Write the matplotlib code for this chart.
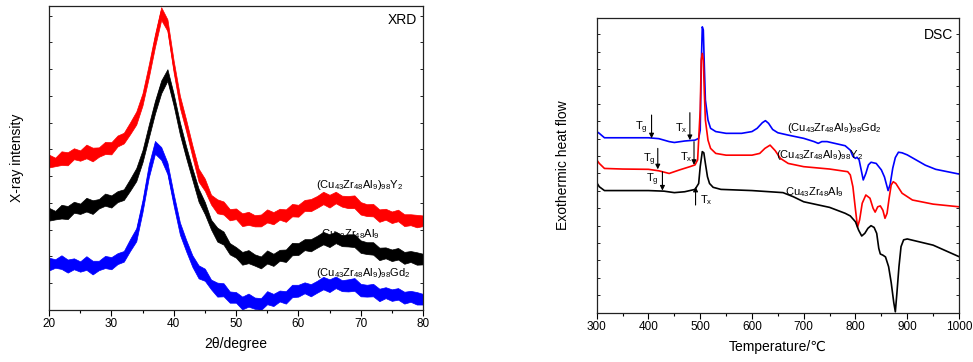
import numpy as np
import matplotlib
matplotlib.use("Agg")
import matplotlib.pyplot as plt
from matplotlib.ticker import MultipleLocator

plt.rcParams['font.family'] = ['Liberation Sans', 'DejaVu Sans']
plt.rcParams['mathtext.fontset'] = 'custom'
plt.rcParams['mathtext.rm'] = 'Liberation Sans'

# ---------------- XRD data ----------------
xrd_angle = list(range(20, 81))
xrd_y2 = [49.3, 48.8, 49.6, 50.4, 51.0, 51.3, 51.5, 51.8, 52.1, 52.6, 53.7, 55.4, 57.0, 59.2, 63.6,
          69.1, 77.9, 88.8, 98.1, 93.2, 80.0, 69.1, 60.3, 52.6, 45.0, 40.6, 36.7, 34.5, 32.9, 31.8,
          31.3, 30.5, 29.6, 29.6, 30.2, 30.2, 30.7, 31.3, 31.8, 32.3, 32.9, 34.0, 35.1, 35.6, 36.2,
          36.4, 36.7, 36.4, 35.6, 34.9, 34.0, 33.1, 32.3, 31.8, 31.3, 30.9, 30.7, 30.2, 29.6, 29.6, 29.6]
xrd_base = [31.8, 31.3, 32.0, 32.7, 33.4, 33.8, 34.0, 34.5, 35.1, 35.6, 36.2, 37.1, 38.4, 40.6, 45.0,
            50.4, 58.1, 66.9, 74.0, 76.8, 69.1, 60.3, 51.5, 45.0, 38.4, 32.9, 28.5, 25.2, 23.0, 20.6,
            18.6, 17.8, 17.0, 16.7, 16.4, 16.7, 17.0, 17.8, 18.6, 19.5, 20.3, 21.1, 21.9, 22.5, 23.0,
            23.4, 23.6, 23.4, 23.0, 22.1, 21.4, 20.6, 19.7, 19.2, 18.6, 18.4, 18.1, 17.8, 17.5, 17.3, 17.0]
xrd_gd2 = [15.4, 15.4, 15.4, 15.1, 14.8, 14.8, 14.8, 14.6, 14.8, 15.1, 15.9, 16.7, 18.1, 20.8, 25.2,
           34.0, 45.0, 53.7, 52.1, 46.1, 36.2, 27.4, 20.8, 16.4, 13.2, 11.0, 8.8, 7.1, 6.0, 4.7,
           3.8, 3.1, 2.7, 2.5, 2.7, 3.3, 3.8, 4.4, 4.9, 5.7, 6.6, 6.9, 7.1, 7.7, 8.2,
           8.6, 8.8, 8.6, 8.2, 7.7, 7.1, 6.6, 6.0, 5.7, 5.5, 5.3, 4.9, 4.7, 4.4, 4.2, 3.8]
# upper / lower half-width of the noise band
xrd_noise_up = [1.8, 1.3, 2.6, 1.5, 2.2, 1.2, 2.9, 1.6, 1.4, 2.7, 1.5, 2.0, 1.3, 2.5, 1.7,
                2.2, 2.8, 1.9, 1.5, 2.4, 2.0, 1.4, 2.3, 1.6, 1.5, 2.6, 1.2, 1.9, 2.8, 1.4,
                2.1, 1.3, 2.7, 1.6, 1.2, 2.9, 1.5, 2.0, 1.3, 2.6, 1.7, 2.2, 1.4, 1.9, 2.7,
                1.5, 2.2, 1.2, 1.9, 2.8, 1.5, 1.7, 2.6, 1.3, 2.0, 1.5, 2.3, 1.3, 1.9, 1.7, 1.5]
xrd_noise_dn = [2.4, 1.5, 1.9, 2.8, 1.4, 2.2, 1.6, 2.9, 1.7, 1.3, 2.5, 1.6, 2.2, 1.4, 2.6,
                1.8, 1.5, 2.3, 2.7, 1.4, 1.9, 2.6, 1.5, 2.2, 2.8, 1.4, 2.0, 2.7, 1.5, 2.3,
                1.4, 2.9, 1.6, 2.1, 2.7, 1.4, 2.5, 1.6, 2.8, 1.5, 2.2, 1.4, 2.6, 2.0, 1.4,
                2.7, 1.6, 2.4, 2.1, 1.4, 2.6, 2.2, 1.5, 2.8, 1.6, 2.3, 1.5, 2.6, 1.7, 2.4, 2.0]

# ---------------- DSC data ----------------
dsc_T_gd2 = [300, 305, 315, 350, 400, 420, 440, 450, 470, 490, 497, 500, 502, 504, 506, 508, 510, 515,
             520, 530, 550, 580, 600, 610, 620, 626, 632, 640, 650, 670, 700, 720, 728, 735, 745, 760,
             780, 790, 795, 800, 803, 807, 811, 815, 820, 825, 830, 840, 850, 856, 863, 867, 872, 877,
             883, 890, 900, 915, 935, 955, 1000]
dsc_gd2 = [61.4, 60.8, 59.3, 59.3, 59.3, 59.0, 58.0, 57.7, 58.2, 58.5, 59.1, 61.9, 83.4, 96.9, 95.8,
           83.4, 72.1, 65.3, 62.5, 61.4, 60.8, 60.8, 61.4, 62.5, 64.4, 65.1, 64.2, 62.1, 61.0, 60.2,
           59.1, 58.0, 57.4, 58.0, 58.0, 57.4, 56.6, 55.1, 53.0, 52.3, 52.7, 51.8, 48.4, 45.0, 47.2,
           50.1, 51.0, 50.6, 48.4, 46.0, 41.4, 43.5, 49.0, 52.6, 54.4, 54.2, 53.5, 52.0, 50.0, 48.6, 47.0]
dsc_T_y2 = [300, 305, 315, 350, 400, 420, 440, 460, 480, 490, 495, 500, 502, 504, 506, 508, 510, 515,
            520, 530, 550, 580, 600, 615, 625, 635, 645, 655, 670, 700, 750, 785, 790, 795, 800, 804,
            808, 813, 820, 828, 834, 838, 843, 848, 853, 857, 861, 865, 869, 873, 878, 890, 910, 950, 1000]
dsc_y2 = [51.8, 50.6, 48.9, 48.7, 48.6, 48.1, 47.2, 48.4, 49.5, 50.1, 51.8, 68.7, 85.6, 87.9, 85.6,
          74.4, 65.3, 58.5, 55.7, 54.0, 53.4, 53.4, 53.4, 54.0, 55.7, 56.8, 54.9, 52.3, 50.6, 49.5,
          48.7, 47.8, 46.7, 42.7, 34.9, 29.0, 31.5, 37.1, 39.9, 38.8, 35.4, 34.1, 35.9, 36.2, 34.7,
          32.0, 33.7, 38.8, 43.3, 44.4, 43.8, 40.5, 38.2, 36.8, 35.9]
dsc_T_base = [300, 305, 315, 350, 400, 430, 450, 470, 490, 497, 500, 504, 507, 510, 514, 518, 525, 540,
              600, 660, 680, 700, 750, 780, 790, 800, 806, 812, 818, 824, 830, 836, 841, 845, 848, 853,
              858, 864, 869, 874, 877, 880, 884, 888, 893, 900, 950, 1000]
dsc_base = [44.1, 42.7, 41.4, 41.4, 41.4, 41.2, 40.7, 41.0, 41.8, 43.8, 49.5, 54.6, 54.2, 50.6, 46.1,
            43.8, 42.5, 41.8, 41.4, 40.7, 39.3, 37.6, 35.7, 33.7, 32.8, 30.8, 28.0, 26.0, 26.9, 28.6,
            29.5, 28.9, 26.9, 21.8, 19.9, 19.5, 18.9, 15.6, 10.2, 3.4, 0.3, 6.6, 15.6, 22.4, 24.7,
            25.0, 22.9, 19.0]

# annotation readings: (temperature, arrow start, arrow end, label x, label y)
tg_marks = [(406, 67.0, 59.1, 387, 62.8), (418, 55.7, 48.6, 402, 51.8), (427, 47.8, 41.4, 408, 45.0)]
tx_marks = [(480, 67.8, 58.5, 464, 62.5), (488, 58.0, 50.1, 473, 52.9), (491, 36.5, 42.7, 511, 38.2)]

W, H = 973, 362
fig = plt.figure(figsize=(W / 100, H / 100), dpi=100)

def style_axes(ax):
    for s in ax.spines.values():
        s.set_linewidth(0.9)
        s.set_color('#222222')
    ax.tick_params(axis='x', which='major', direction='out', length=4, width=0.8, labelsize=8.5, pad=2)
    ax.tick_params(axis='x', which='minor', direction='out', length=2.5, width=0.8)
    ax.tick_params(axis='y', which='both', direction='in', length=2, width=0.6, left=True, right=True,
                   labelleft=False)

# ---- XRD ----
ax1 = fig.add_axes([49 / W, 1 - 310 / H, 374 / W, 304 / H])
for yc, col in [(xrd_y2, '#ff0000'), (xrd_base, '#000000'), (xrd_gd2, '#0000ff')]:
    yc = np.array(yc)
    ax1.fill_between(xrd_angle, yc - np.array(xrd_noise_dn), yc + np.array(xrd_noise_up),
                     color=col, lw=0.5, edgecolor=col)
    ax1.plot(xrd_angle, yc, color=col, lw=0.8)
ax1.set_xlim(20, 80)
ax1.set_ylim(0, 100)
ax1.xaxis.set_major_locator(MultipleLocator(10))
ax1.xaxis.set_minor_locator(MultipleLocator(5))
ax1.yaxis.set_major_locator(MultipleLocator(8.8))
style_axes(ax1)
ax1.set_xlabel('2θ/degree', fontsize=10, labelpad=5)
ax1.set_ylabel('X-ray intensity', fontsize=10, labelpad=18)
ax1.text(0.985, 0.955, 'XRD', transform=ax1.transAxes, ha='right', va='center', fontsize=10)
ax1.text(62.8, 41.0, r'$\mathregular{(Cu_{43}Zr_{48}Al_{9})_{98}Y_{2}}$', fontsize=8, ha='left', va='center')
ax1.text(63.7, 25.0, r'$\mathregular{Cu_{43}Zr_{48}Al_{9}}$', fontsize=8, ha='left', va='center')
ax1.text(62.9, 12.2, r'$\mathregular{(Cu_{43}Zr_{48}Al_{9})_{98}Gd_{2}}$', fontsize=8, ha='left', va='center')

# ---- DSC ----
ax2 = fig.add_axes([596.7 / W, 1 - 312.7 / H, 362.3 / W, 295 / H])
ax2.plot(dsc_T_gd2, dsc_gd2, color='#0000ff', lw=1.2)
ax2.plot(dsc_T_y2, dsc_y2, color='#ff0000', lw=1.2)
ax2.plot(dsc_T_base, dsc_base, color='#000000', lw=1.2)
ax2.set_xlim(300, 1000)
ax2.set_ylim(0, 100)
ax2.xaxis.set_major_locator(MultipleLocator(100))
ax2.xaxis.set_minor_locator(MultipleLocator(50))
ax2.yaxis.set_major_locator(MultipleLocator(5.9))
style_axes(ax2)
ax2.set_xlabel('Temperature/℃', fontsize=10, labelpad=5)
ax2.set_ylabel('Exothermic heat flow', fontsize=10, labelpad=19)
ax2.text(0.985, 0.943, 'DSC', transform=ax2.transAxes, ha='right', va='center', fontsize=10)
ax2.text(667, 62.5, r'$\mathregular{(Cu_{43}Zr_{48}Al_{9})_{98}Gd_{2}}$', fontsize=8, ha='left', va='center')
ax2.text(646, 53.4, r'$\mathregular{(Cu_{43}Zr_{48}Al_{9})_{98}Y_{2}}$', fontsize=8, ha='left', va='center')
ax2.text(664, 41.0, r'$\mathregular{Cu_{43}Zr_{48}Al_{9}}$', fontsize=8, ha='left', va='center')

ap = dict(arrowstyle='-|>', color='black', lw=0.8, mutation_scale=7, shrinkA=0, shrinkB=0)
for t, y0, y1, lx, ly in tg_marks:
    ax2.annotate('', xy=(t, y1), xytext=(t, y0), arrowprops=ap)
    ax2.text(lx, ly, r'$\mathregular{T_{g}}$', fontsize=8, ha='center', va='center')
for t, y0, y1, lx, ly in tx_marks:
    ax2.annotate('', xy=(t, y1), xytext=(t, y0), arrowprops=ap)
    ax2.text(lx, ly, r'$\mathregular{T_{x}}$', fontsize=8, ha='center', va='center')

fig.savefig('out.png', dpi=100)
